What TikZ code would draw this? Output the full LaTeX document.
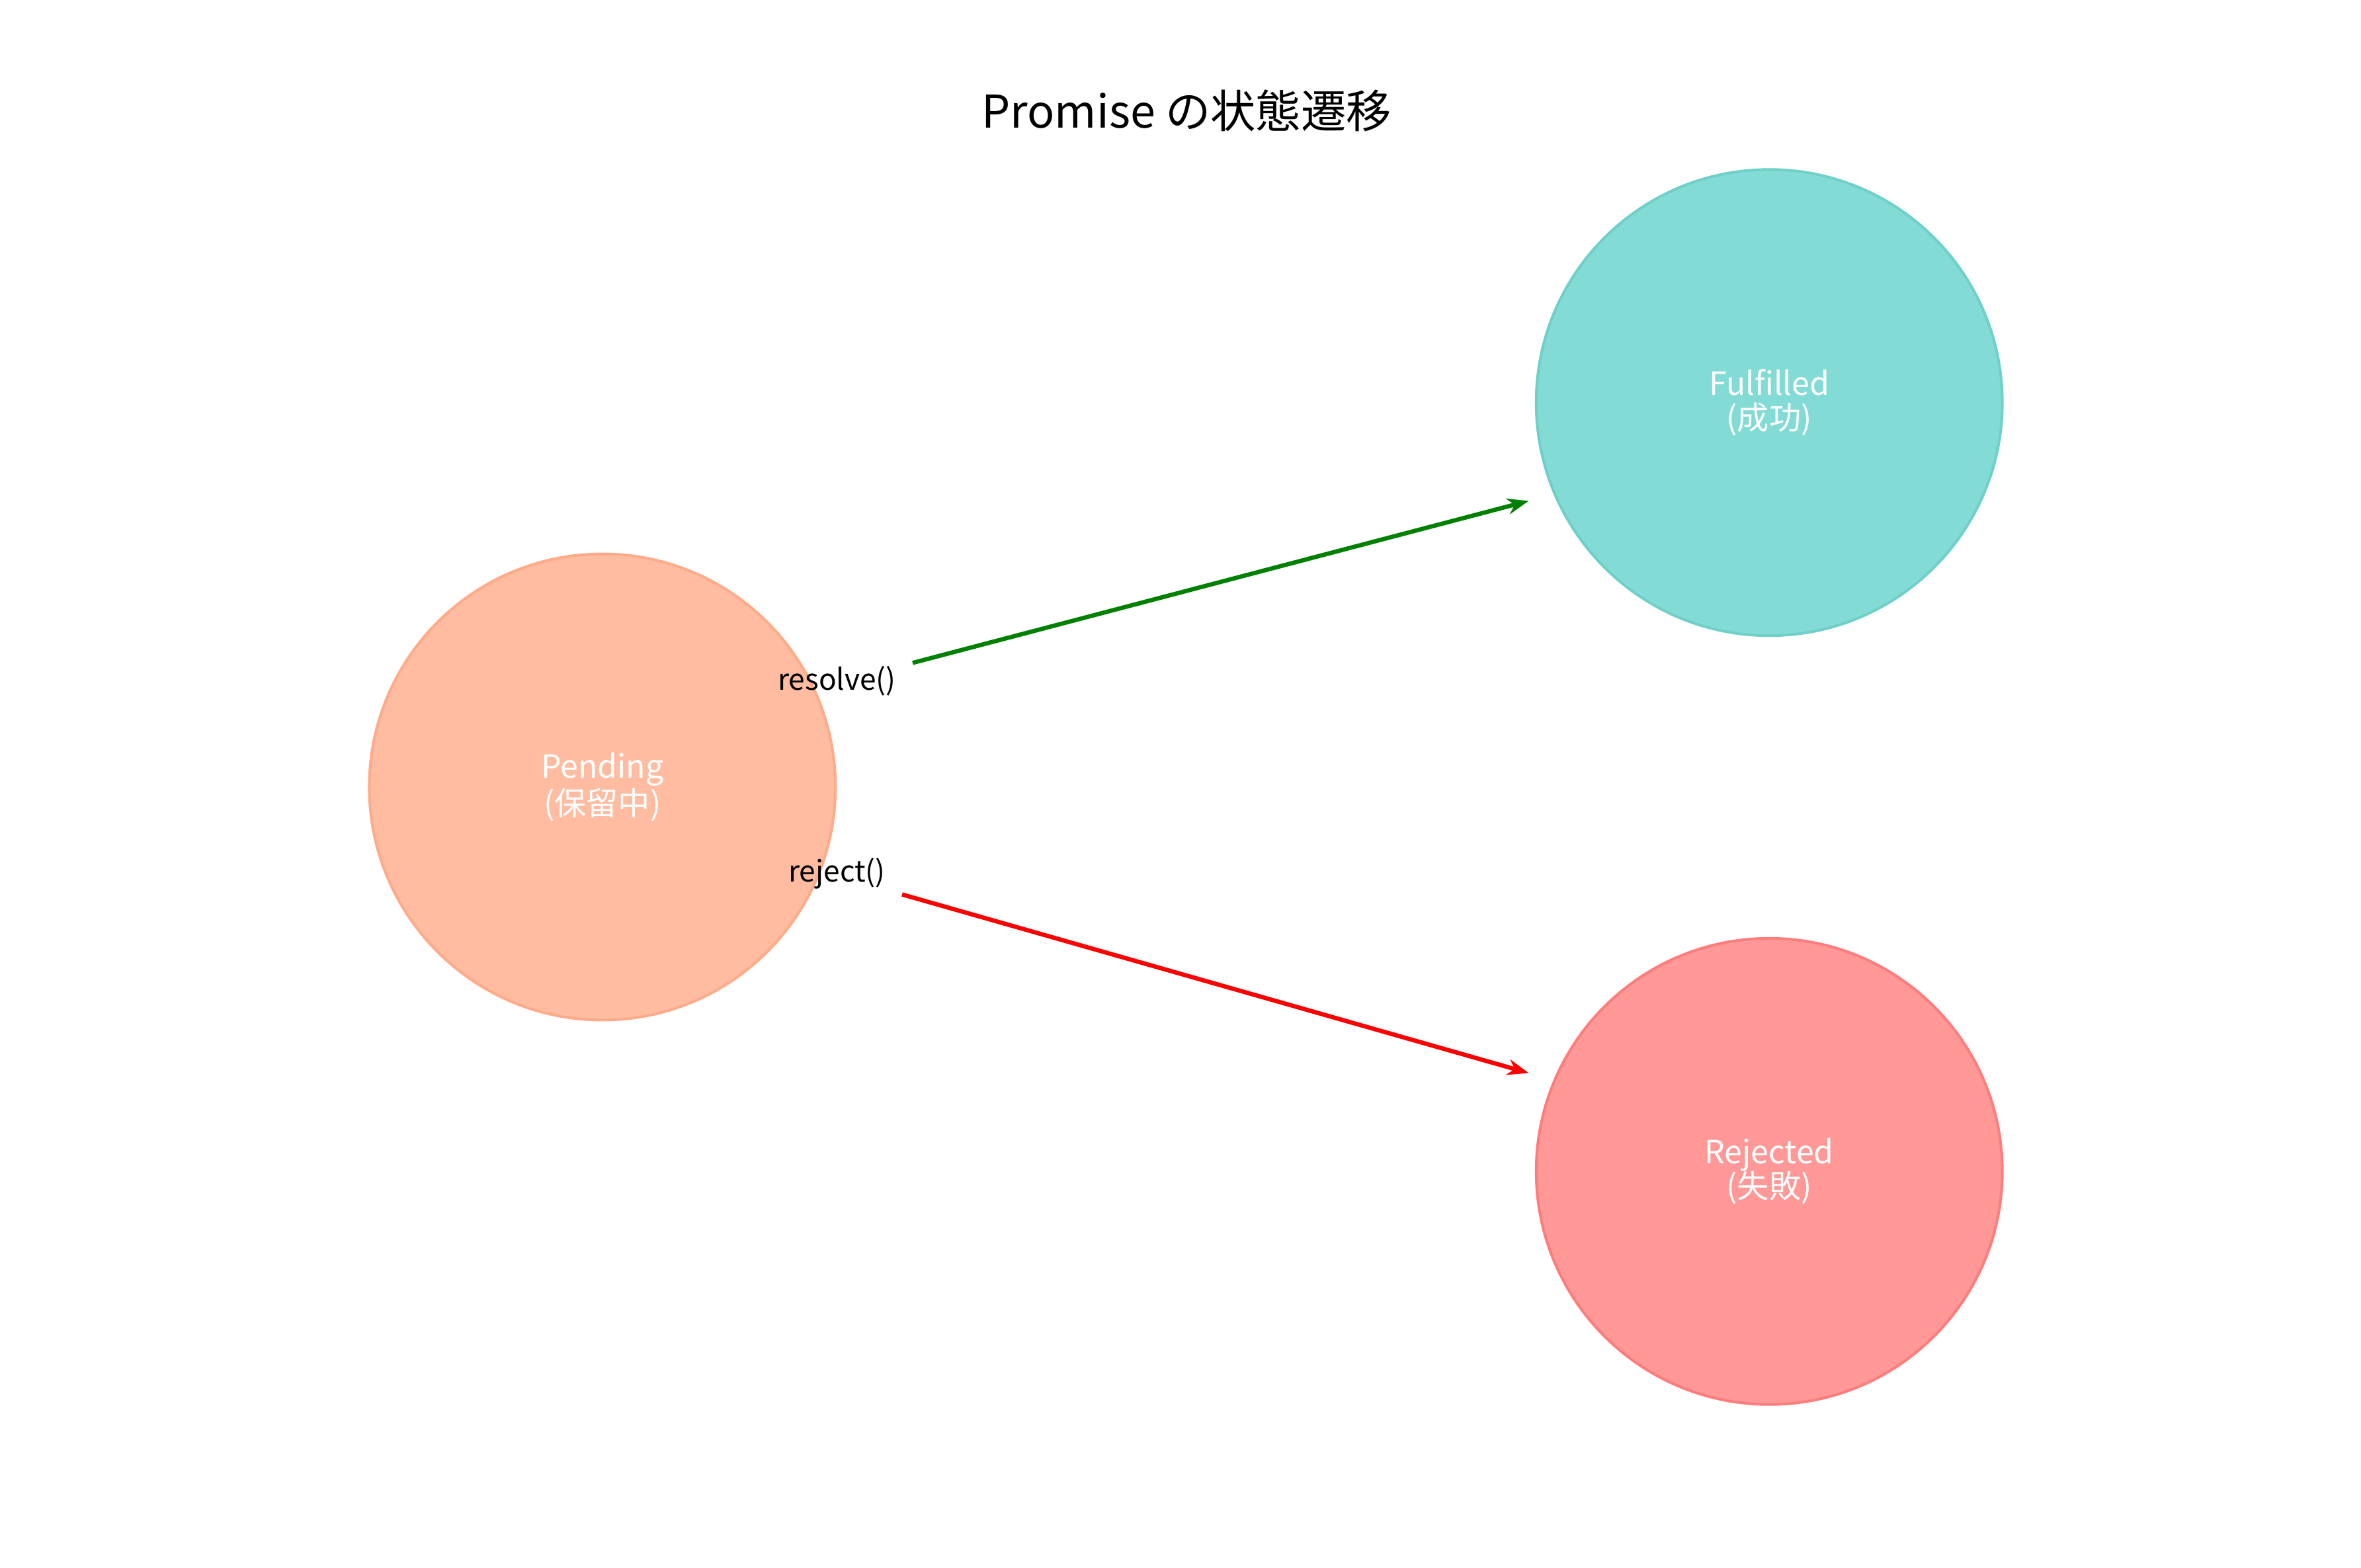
\documentclass[tikz,border=0pt]{standalone}
\usepackage{fontspec}
\setmainfont{Noto Sans CJK JP}
\usetikzlibrary{arrows.meta}
\definecolor{pendfill}{HTML}{FFBCA0}
\definecolor{pendline}{HTML}{FFAA88}
\definecolor{fulfill}{HTML}{83DBD5}
\definecolor{fulline}{HTML}{6ED0C8}
\definecolor{rejfill}{HTML}{FF9896}
\definecolor{rejline}{HTML}{FF7C7C}
\definecolor{resgreen}{HTML}{008000}
\begin{document}
\begin{tikzpicture} [
    state/.style = { circle, minimum size=6.16cm, line width=1pt,
                     text=white, align=center, font=\fontsize{12}{13}\selectfont },
    lbl/.style   = { font=\fontsize{11}{12}\selectfont },
    trans/.style = { line width=1.6pt, -{Stealth[length=8pt,width=6pt]} },
  ]
\useasboundingbox (0,0) rectangle (31.2,-20.72);

\node (title) at (15.68,-1.46) {\fontsize{17}{18}\selectfont Promise の状態遷移};

\node [state, fill=pendfill, draw=pendline] (pend) at (7.96,-10.4)  {Pending\\(保留中)};
\node [state, fill=fulfill, draw=fulline]   (ful)  at (23.38,-5.32) {Fulfilled\\(成功)};
\node [state, fill=rejfill, draw=rejline]   (rej)  at (23.38,-15.48) {Rejected\\(失敗)};

% arrow ends
\coordinate (resS) at (12.06,-8.76);
\coordinate (resE) at (20.2,-6.62);
\coordinate (rejS) at (11.92,-11.82);
\coordinate (rejE) at (20.2,-14.18);

\draw [trans, resgreen] (resS) -- (resE);
\draw [trans, red]      (rejS) -- (rejE);

\node [lbl] (reslbl) at (11.06,-9.0)   {resolve()};
\node [lbl] (rejlbl) at (11.06,-11.54) {reject()};

\end{tikzpicture}
\end{document}
